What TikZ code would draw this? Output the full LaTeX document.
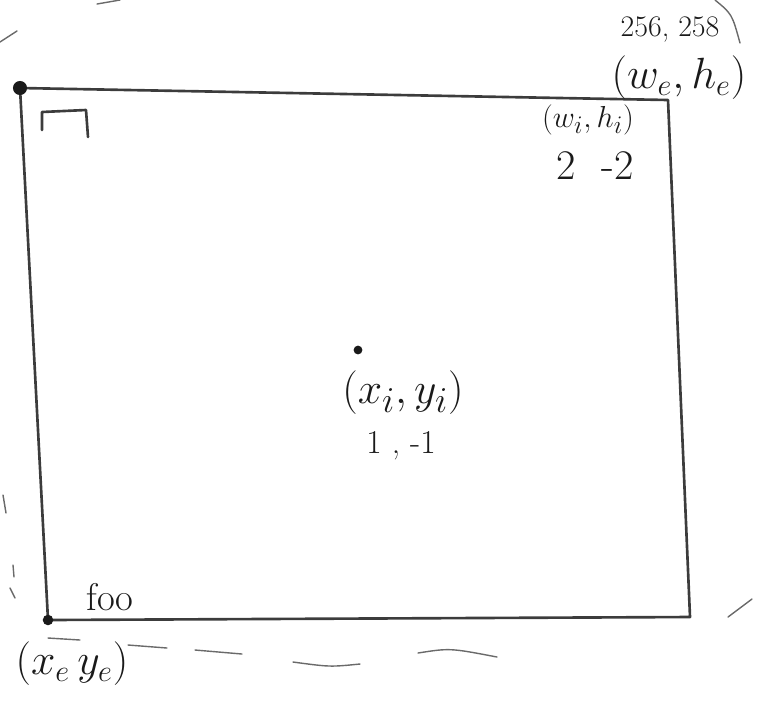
\documentclass[tikz,border=0pt]{standalone}
\usepackage{tikz}
\usetikzlibrary{positioning}
\definecolor{InkGray}{HTML}{3C3C3C}
\definecolor{InkBlack}{HTML}{1A1A1A}
\definecolor{PencilGray}{HTML}{6A6A6A}

\begin{document}
\begin{tikzpicture}[
  x=0.02cm, y=-0.02cm,
  ink/.style={draw=InkGray, line width=1.5pt, line cap=round, line join=round},
  faint/.style={draw=PencilGray, line width=0.8pt, line cap=round},
  corner/.style={circle, fill=InkBlack, inner sep=0pt, minimum size=8pt},
  lbl/.style={text=InkBlack, inner sep=1pt},
  sz/.style={font=\fontsize{#1}{#1}\selectfont}
]
\useasboundingbox (0,0) rectangle (763,701);

% corners of the frame
\coordinate (tl) at (20,88);
\coordinate (tr) at (668,100);
\coordinate (br) at (690,617);
\coordinate (bl) at (48,620);

% frame
\draw[ink] (tl) -- (tr) -- (br) -- (bl) -- (tl);
\node[corner] (origin) at (tl) {};
\node[corner, minimum size=6pt] (base) at (bl) {};
\draw[ink] (42,130) -- (42,112) -- (86,110) -- (88,137);

% centre point
\node[circle, fill=InkBlack, inner sep=0pt, minimum size=5pt] (mid) at (358,350) {};

% labels
\node[lbl, sz=17pt] (outsize) at (670,30) {256, 258};
\node[lbl, sz=23pt] (outwh) at (679,78) {$(w_e, h_e)$};
\node[lbl, sz=19pt] (innerwh) at (588,120) {$(w_i, h_i)$};
\node[lbl, sz=24pt] (innerval) at (595,166) {2\ \ -2};
\node[lbl, sz=29pt] (innerxy) at (403,393) {$(x_i, y_i)$};
\node[lbl, sz=19pt] (innerxyval) at (401,446) {1 , -1};
\node[lbl, sz=22pt] (foo) at (110,597) {foo};
\node[lbl, sz=25pt] (outxy) at (72,664) {$(x_e\,y_e)$};

% pencil strokes
\draw[faint] (48,638) -- (80,640);
\draw[faint] (128,645) -- (167,648);
\draw[faint] (195,650) -- (242,654);
\draw[faint] (293,662) .. controls (330,667) .. (360,664);
\draw[faint] (418,653) .. controls (450,648) .. (497,657);
\draw[faint] (3,495) -- (6,513);
\draw[faint] (13,565) -- (14,577);
\draw[faint] (10,588) -- (15,598);
\draw[faint] (97,4) -- (120,0);
\draw[faint] (0,42) -- (17,31);
\draw[faint] (728,617) -- (752,599);
\draw[faint] (715,0) .. controls (732,14) .. (740,43);
\end{tikzpicture}
\end{document}
